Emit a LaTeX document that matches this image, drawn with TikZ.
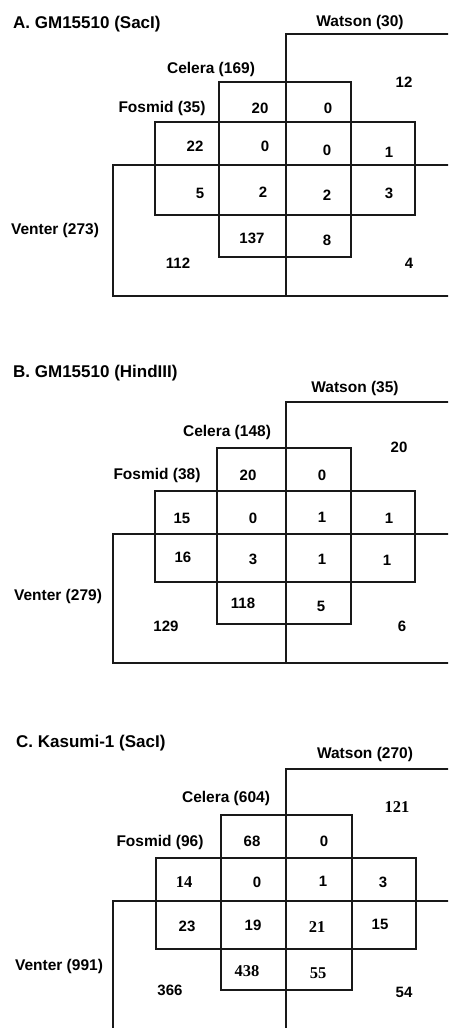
\documentclass[tikz,border=0pt]{standalone}
\usepackage{fontspec}
\setmainfont{Liberation Sans}
\newfontfamily\numserif{Liberation Serif}
\begin{document}
\begin{tikzpicture}[x=1pt,y=-1pt,
  box/.style={draw=black!90, line width=2.9pt},
  ttl/.style={anchor=west, font=\fontsize{17}{17}\selectfont\bfseries, inner sep=0pt},
  lbl/.style={font=\fontsize{15.5}{15.5}\selectfont\bfseries, inner sep=0pt},
  num/.style={font=\fontsize{15}{15}\selectfont\bfseries, inner sep=0pt},
  snum/.style={font=\fontsize{16.5}{16.5}\selectfont\numserif\bfseries, inner sep=0pt}]
\useasboundingbox (0,0) rectangle (448,1028);
\clip (0,0) rectangle (448,1028);
% ---------- Panel A ----------
\node[ttl] (tA) at (13,24) {A. GM15510 (SacI)};
\draw[box] (470,34) -- (286,34) -- (286,296);
\draw[box] (470,165) -- (113,165) -- (113,296) -- (470,296);
\draw[box] (219,82) rectangle (351,257);
\draw[box] (155,122) rectangle (415,215);
\node[lbl] (wA) at (360,22) {Watson (30)};
\node[lbl] (cA) at (211,69) {Celera (169)};
\node[lbl] (fA) at (162,108) {Fosmid (35)};
\node[lbl] (vA) at (55,230) {Venter (273)};
\node[num] at (404,82) {12};
\node[num] at (260,108) {20};
\node[num] at (328,108) {0};
\node[num] at (195,146) {22};
\node[num] at (265,146) {0};
\node[num] at (327,150) {0};
\node[num] at (389,152) {1};
\node[num] at (200,193) {5};
\node[num] at (263,192) {2};
\node[num] at (327,195) {2};
\node[num] at (389,193) {3};
\node[num] at (252,238) {137};
\node[num] at (327,240) {8};
\node[num] at (178,263) {112};
\node[num] at (409,263) {4};
% ---------- Panel B ----------
\node[ttl] (tB) at (13,373) {B. GM15510 (HindIII)};
\draw[box] (470,402) -- (286,402) -- (286,663);
\draw[box] (470,534) -- (113,534) -- (113,663) -- (470,663);
\draw[box] (217,448) rectangle (351,624);
\draw[box] (155,491) rectangle (415,582);
\node[lbl] (wB) at (355,388) {Watson (35)};
\node[lbl] (cB) at (227,432) {Celera (148)};
\node[lbl] (fB) at (157,475) {Fosmid (38)};
\node[lbl] (vB) at (58,596) {Venter (279)};
\node[num] at (399,447) {20};
\node[num] at (248,475) {20};
\node[num] at (322,475) {0};
\node[num] at (182,518) {15};
\node[num] at (253,518) {0};
\node[num] at (322,517) {1};
\node[num] at (389,518) {1};
\node[num] at (183,557) {16};
\node[num] at (253,559) {3};
\node[num] at (322,559) {1};
\node[num] at (387,560) {1};
\node[num] at (243,603) {118};
\node[num] at (321,606) {5};
\node[num] at (166,626) {129};
\node[num] at (402,626) {6};
% ---------- Panel C ----------
\node[ttl] (tC) at (16,743) {C. Kasumi-1 (SacI)};
\draw[box] (470,769) -- (286,769) -- (286,1040);
\draw[box] (470,901) -- (113,901) -- (113,1040);
\draw[box] (221,815) rectangle (352,990);
\draw[box] (156,858) rectangle (416,949);
\node[lbl] (wC) at (365,754) {Watson (270)};
\node[lbl] (cC) at (226,798) {Celera (604)};
\node[lbl] (fC) at (160,842) {Fosmid (96)};
\node[lbl] (vC) at (59,966) {Venter (991)};
\node[snum] at (397,807) {121};
\node[num] at (252,841) {68};
\node[num] at (324,841) {0};
\node[snum] at (184,882) {14};
\node[num] at (257,882) {0};
\node[num] at (323,881) {1};
\node[num] at (383,882) {3};
\node[num] at (187,926) {23};
\node[num] at (253,925) {19};
\node[snum] at (317,927) {21};
\node[num] at (380,924) {15};
\node[snum] at (247,971) {438};
\node[snum] at (318,973) {55};
\node[num] at (170,990) {366};
\node[num] at (404,992) {54};
\end{tikzpicture}
\end{document}
